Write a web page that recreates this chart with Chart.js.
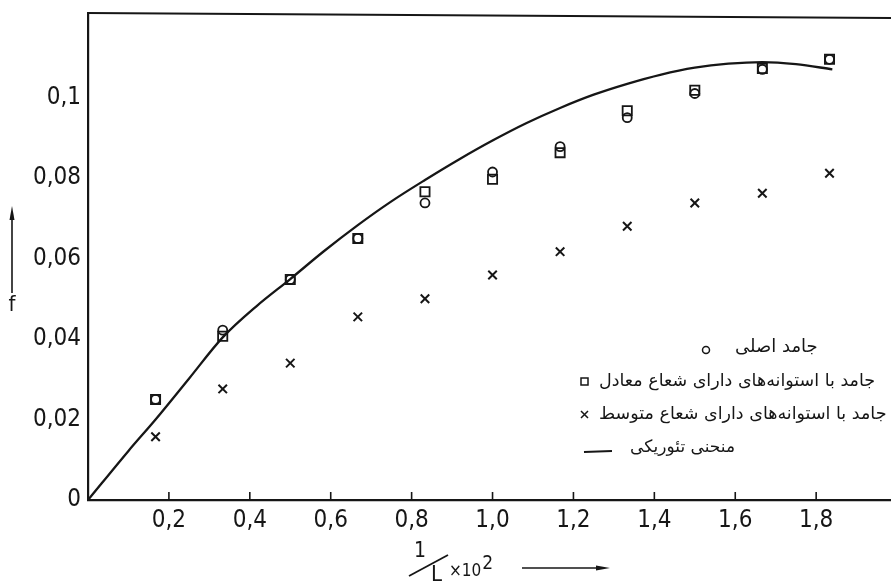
<!DOCTYPE html>
<html>
<head>
<meta charset="utf-8">
<script src="https://cdn.jsdelivr.net/npm/chart.js@4.4.1/dist/chart.umd.min.js"></script>
<style>
  html, body { margin: 0; padding: 0; background: #ffffff; }
  #wrap { width: 891px; height: 582px; position: relative; }
  canvas { display: block; }
</style>
</head>
<body>
<div id="wrap"><canvas id="c" width="891" height="582"></canvas></div>
<script>
// ---------- data ----------
const xValues = [0.167, 0.333, 0.5, 0.667, 0.833, 1.0, 1.167, 1.333, 1.5, 1.667, 1.833];
const solidF = [0.0250, 0.0422, 0.0548, 0.0650, 0.0738, 0.0815, 0.0878, 0.0950, 0.1010, 0.1070, 0.1095];
const equalRadiusF = [0.0250, 0.0407, 0.0548, 0.0650, 0.0766, 0.0797, 0.0863, 0.0967, 0.1018, 0.1072, 0.1095];
const meanRadiusF = [0.0157, 0.0276, 0.0340, 0.0455, 0.0500, 0.0559, 0.0617, 0.0680, 0.0738, 0.0762, 0.0812];
const theoryX = [0, 0.1, 0.167, 0.25, 0.333, 0.417, 0.5, 0.583, 0.667, 0.75, 0.833, 0.917, 1.0, 1.083, 1.167, 1.25, 1.333, 1.417, 1.5, 1.583, 1.667, 1.75, 1.84];
const theoryF = [0, 0.0122, 0.0200, 0.0302, 0.0404, 0.0482, 0.0549, 0.0618, 0.0683, 0.0742, 0.0795, 0.0846, 0.0893, 0.0936, 0.0974, 0.1007, 0.1034, 0.1057, 0.1074, 0.1084, 0.1088, 0.1083, 0.1070];
const xTickValues = [0.2, 0.4, 0.6, 0.8, 1.0, 1.2, 1.4, 1.6, 1.8];
const xTickLabels = ['0,2', '0,4', '0,6', '0,8', '1,0', '1,2', '1,4', '1,6', '1,8'];
const yTickValues = [0, 0.02, 0.04, 0.06, 0.08, 0.1];
const yTickLabels = ['0', '0,02', '0,04', '0,06', '0,08', '0,1'];
const seriesNames = ['جامد اصلی', 'جامد با استوانه‌های دارای شعاع معادل', 'جامد با استوانه‌های دارای شعاع متوسط', 'منحنی تئوریکی'];
const yTitle = 'f';
const xTitleNum = '1';
const xTitleDen = 'L';
const xTitleFactor = '×10';
const xTitleExp = '2';

const INK = '#161616';
const NUM_FONT = "'Liberation Sans Narrow', 'DejaVu Sans Condensed', 'DejaVu Sans', sans-serif";
const AR_FONT = "'DejaVu Sans', 'Noto Sans', sans-serif";

const toPts = (xs, ys) => xs.map((x, i) => ({ x: x, y: ys[i] }));

const decorPlugin = {
  id: 'decor',
  afterDraw(chart) {
    const ctx = chart.ctx;
    const a = chart.chartArea;
    const xs = chart.scales.x;
    ctx.save();
    ctx.strokeStyle = INK;
    ctx.fillStyle = INK;
    // top frame line
    ctx.lineWidth = 2.2;
    ctx.beginPath();
    ctx.moveTo(a.left - 1, a.top);
    ctx.lineTo(a.right, a.top + 5);
    ctx.stroke();
    // inward ticks on x axis
    ctx.lineWidth = 1.6;
    xTickValues.forEach(v => {
      const px = xs.getPixelForValue(v);
      ctx.beginPath();
      ctx.moveTo(px, a.bottom);
      ctx.lineTo(px, a.bottom - 8);
      ctx.stroke();
    });
    // y title with arrow
    ctx.font = "22px " + NUM_FONT;
    ctx.textAlign = 'center';
    ctx.textBaseline = 'middle';
    ctx.fillText(yTitle, 12, 305);
    ctx.lineWidth = 1.6;
    ctx.beginPath();
    ctx.moveTo(12, 293);
    ctx.lineTo(12, 212);
    ctx.stroke();
    ctx.beginPath();
    ctx.moveTo(12, 206);
    ctx.lineTo(9.5, 220);
    ctx.lineTo(14.5, 220);
    ctx.closePath();
    ctx.fill();
    // x title: 1/L x10^2 with arrow
    ctx.textAlign = 'left';
    ctx.textBaseline = 'alphabetic';
    ctx.font = "21px " + NUM_FONT;
    ctx.fillText(xTitleNum, 414, 557);
    ctx.lineWidth = 1.8;
    ctx.beginPath();
    ctx.moveTo(409, 576);
    ctx.lineTo(448, 555);
    ctx.stroke();
    ctx.font = "22px " + NUM_FONT;
    ctx.fillText(xTitleDen, 431, 581);
    ctx.font = "17px " + NUM_FONT;
    ctx.fillText(xTitleFactor, 449, 576);
    const fw = ctx.measureText(xTitleFactor).width;
    ctx.font = "19px " + NUM_FONT;
    ctx.fillText(xTitleExp, 449 + fw + 1, 569);
    ctx.lineWidth = 1.3;
    ctx.beginPath();
    ctx.moveTo(522, 568);
    ctx.lineTo(600, 568);
    ctx.stroke();
    ctx.beginPath();
    ctx.moveTo(610, 568);
    ctx.lineTo(596, 565.5);
    ctx.lineTo(596, 570.5);
    ctx.closePath();
    ctx.fill();

    // legend (Persian text, right-to-left)
    ctx.direction = 'rtl';
    ctx.textAlign = 'left';
    ctx.textBaseline = 'middle';
    ctx.lineWidth = 1.5;
    // row 1: small circle
    ctx.font = "18px " + AR_FONT;
    ctx.beginPath();
    ctx.arc(706, 350, 3.5, 0, Math.PI * 2);
    ctx.stroke();
    ctx.fillText(seriesNames[0], 735, 347);
    // row 2: square
    ctx.font = "17.5px " + AR_FONT;
    ctx.strokeRect(581, 378, 7, 7);
    ctx.fillText(seriesNames[1], 599, 381);
    // row 3: cross
    ctx.beginPath();
    ctx.moveTo(581, 411); ctx.lineTo(588, 418);
    ctx.moveTo(588, 411); ctx.lineTo(581, 418);
    ctx.stroke();
    ctx.fillText(seriesNames[2], 599, 414);
    // row 4: line
    ctx.font = "17px " + AR_FONT;
    ctx.lineWidth = 2;
    ctx.beginPath();
    ctx.moveTo(584, 452); ctx.lineTo(612, 451);
    ctx.stroke();
    ctx.fillText(seriesNames[3], 630, 448);
    ctx.restore();
  }
};

new Chart(document.getElementById('c'), {
  type: 'scatter',
  data: {
    datasets: [
      {
        label: seriesNames[3],
        data: toPts(theoryX, theoryF),
        showLine: true,
        borderColor: INK,
        borderWidth: 2.3,
        pointRadius: 0,
        cubicInterpolationMode: 'monotone',
        fill: false
      },
      {
        label: seriesNames[0],
        data: toPts(xValues, solidF),
        pointStyle: 'circle',
        pointRadius: 4.5,
        borderColor: INK,
        backgroundColor: 'rgba(255,255,255,0)',
        borderWidth: 1.8
      },
      {
        label: seriesNames[1],
        data: toPts(xValues, equalRadiusF),
        pointStyle: 'rect',
        pointRadius: 6.5,
        borderColor: INK,
        backgroundColor: 'rgba(255,255,255,0)',
        borderWidth: 1.8
      },
      {
        label: seriesNames[2],
        data: toPts(xValues, meanRadiusF),
        pointStyle: 'crossRot',
        pointRadius: 6,
        borderColor: INK,
        borderWidth: 2
      }
    ]
  },
  options: {
    responsive: false,
    animation: false,
    devicePixelRatio: 1,
    layout: { autoPadding: false, padding: { left: 0, top: 13, right: 0, bottom: 0 } },
    plugins: { legend: { display: false }, tooltip: { enabled: false } },
    scales: {
      x: {
        type: 'linear',
        min: 0,
        max: 1.985,
        afterBuildTicks: s => { s.ticks = xTickValues.map(v => ({ value: v })); },
        afterFit: s => { s.height = 82; s.paddingLeft = 0; s.paddingRight = 0; },
        grid: { display: true, drawOnChartArea: false, drawTicks: false },
        border: { display: true, color: INK, width: 2.2 },
        ticks: {
          color: INK,
          padding: 6,
          maxRotation: 0,
          autoSkip: false,
          font: { family: NUM_FONT, size: 24 },
          callback: (v) => { const i = xTickValues.findIndex(t => Math.abs(t - v) < 1e-6); return i >= 0 ? xTickLabels[i] : ''; }
        }
      },
      y: {
        type: 'linear',
        min: 0,
        max: 0.121,
        afterBuildTicks: s => { s.ticks = yTickValues.map(v => ({ value: v })); },
        afterFit: s => { s.width = 88; s.paddingTop = 0; s.paddingBottom = 0; },
        grid: { display: true, drawOnChartArea: false, drawTicks: false },
        border: { display: true, color: INK, width: 2.2 },
        ticks: {
          color: INK,
          padding: 7,
          autoSkip: false,
          font: { family: NUM_FONT, size: 24 },
          callback: (v) => { const i = yTickValues.findIndex(t => Math.abs(t - v) < 1e-6); return i >= 0 ? yTickLabels[i] : ''; }
        }
      }
    }
  },
  plugins: [decorPlugin]
});
</script>
</body>
</html>
